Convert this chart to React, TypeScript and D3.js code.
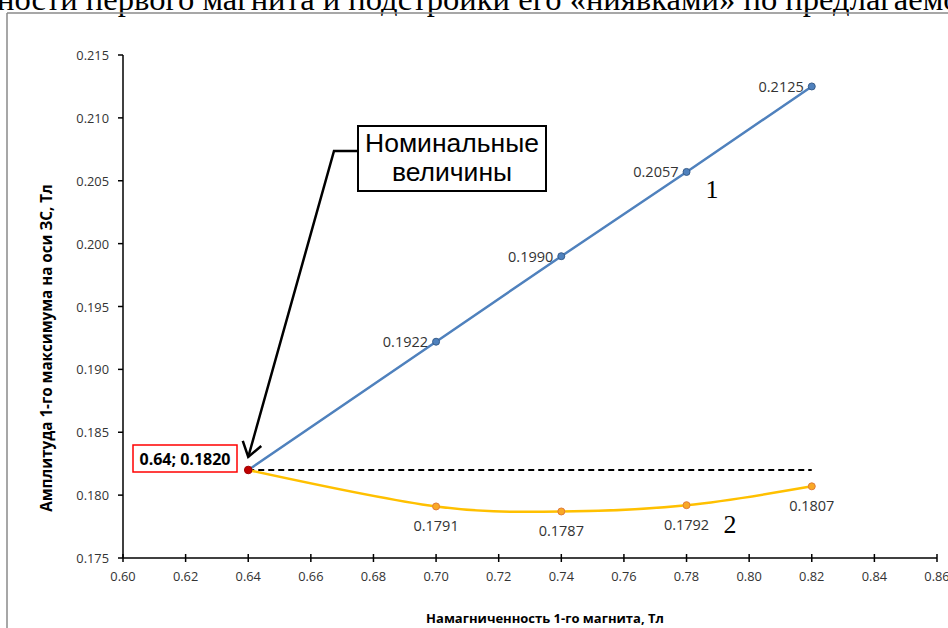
import React from "react";
import * as d3 from "d3";

const xTicks = [0.6, 0.62, 0.64, 0.66, 0.68, 0.7, 0.72, 0.74, 0.76, 0.78, 0.8, 0.82, 0.84, 0.86];
const yTicks = [0.175, 0.18, 0.185, 0.19, 0.195, 0.2, 0.205, 0.21, 0.215];

const magnetization = [0.64, 0.7, 0.74, 0.78, 0.82];
const series1 = [0.182, 0.1922, 0.199, 0.2057, 0.2125];
const series2 = [0.182, 0.1791, 0.1787, 0.1792, 0.1807];
const nominalX = 0.64;
const nominalY = 0.182;

const W = 948;
const H = 628;

export default function App() {
  const x = d3.scaleLinear().domain([0.6, 0.86]).range([123, 937]);
  const y = d3.scaleLinear().domain([0.175, 0.215]).range([558, 55]);

  const pts1 = magnetization.map((m, i) => [x(m), y(series1[i])] as [number, number]);
  const pts2 = magnetization.map((m, i) => [x(m), y(series2[i])] as [number, number]);

  const line = d3.line().curve(d3.curveCardinal.tension(0));
  const straight = d3.line();

  const tickFont = "'Open Sans', sans-serif";

  // arrow
  const tipX = x(nominalX);
  const tipY = y(nominalY) - 13;
  const knee: [number, number] = [334, 151];
  const dx = knee[0] - tipX;
  const dy = knee[1] - tipY;
  const len = Math.hypot(dx, dy);
  const ux = dx / len;
  const uy = dy / len;
  const arm = (ang: number) => {
    const c = Math.cos(ang), s = Math.sin(ang);
    return [tipX + 17 * (ux * c - uy * s), tipY + 17 * (ux * s + uy * c)];
  };
  const a1 = arm(0.6);
  const a2 = arm(-0.6);

  return (
    <svg
      width={W}
      height={H}
      style={{ position: "absolute", left: 0, top: 0, background: "#fff" }}
    >
      <rect x={0} y={0} width={W} height={H} fill="#fff" />
      {/* page text cut at top */}
      <text
        x={-3}
        y={10}
        fontFamily="'Liberation Serif', serif"
        fontSize={32.6}
        fill="#000"
      >
        ности первого магнита и подстройки его «ниявками» по предлагаемо
      </text>
      {/* frame */}
      <line x1={7} y1={13} x2={W} y2={13} stroke="#8a8a8a" strokeWidth={1.5} />
      <line x1={7} y1={13} x2={7} y2={H} stroke="#8a8a8a" strokeWidth={1.5} />

      {/* axes */}
      <line x1={x(0.6)} y1={y(0.175)} x2={x(0.86)} y2={y(0.175)} stroke="#000" strokeWidth={1.5} />
      <line x1={x(0.6)} y1={y(0.175)} x2={x(0.6)} y2={y(0.215)} stroke="#000" strokeWidth={1.5} />
      {yTicks.map((t) => (
        <g key={"y" + t}>
          <line x1={x(0.6) - 5} x2={x(0.6)} y1={y(t)} y2={y(t)} stroke="#000" strokeWidth={1.5} />
          <text
            x={x(0.6) - 14}
            y={y(t)}
            textAnchor="end"
            dominantBaseline="central"
            fontFamily={tickFont}
            fontSize={12.8}
            fill="#333"
          >
            {d3.format(".3f")(t)}
          </text>
        </g>
      ))}
      {xTicks.map((t) => (
        <g key={"x" + t}>
          <line x1={x(t)} x2={x(t)} y1={y(0.175) - 4} y2={y(0.175) + 4} stroke="#000" strokeWidth={1.5} />
          <text
            x={x(t)}
            y={y(0.175) + 18}
            textAnchor="middle"
            dominantBaseline="central"
            fontFamily={tickFont}
            fontSize={12.8}
            fill="#333"
          >
            {d3.format(".2f")(t)}
          </text>
        </g>
      ))}

      {/* axis titles */}
      <text
        transform={`translate(52, 348) rotate(-90)`}
        textAnchor="middle"
        fontFamily={tickFont}
        fontWeight="bold"
        fontSize={15.2}
        fill="#000"
      >
        Амплитуда 1-го максимума на оси ЗС, Тл
      </text>
      <text
        x={545}
        y={623}
        textAnchor="middle"
        fontFamily={tickFont}
        fontWeight="bold"
        fontSize={13}
        fill="#000"
      >
        Намагниченность 1-го магнита, Тл
      </text>

      {/* dashed nominal line */}
      <line
        x1={x(nominalX)}
        x2={x(0.82)}
        y1={y(nominalY)}
        y2={y(nominalY)}
        stroke="#000"
        strokeWidth={2}
        strokeDasharray="6 4"
      />

      {/* series 2 */}
      <path d={line(pts2) || ""} fill="none" stroke="#FFC000" strokeWidth={2.5} />
      {/* series 1 */}
      <path d={straight(pts1) || ""} fill="none" stroke="#4F81BD" strokeWidth={2.5} />

      {pts2.slice(1).map((p, i) => (
        <circle key={"m2" + i} cx={p[0]} cy={p[1]} r={3.5} fill="#F9A825" stroke="#E07B39" strokeWidth={1} />
      ))}
      {pts1.slice(1).map((p, i) => (
        <circle key={"m1" + i} cx={p[0]} cy={p[1]} r={3.5} fill="#4F81BD" stroke="#385D8A" strokeWidth={1} />
      ))}
      <circle cx={x(nominalX)} cy={y(nominalY)} r={3.8} fill="#C00000" stroke="#A00000" strokeWidth={1} />

      {/* data labels */}
      {pts1.slice(1).map((p, i) => (
        <text
          key={"l1" + i}
          x={p[0] - 8}
          y={p[1]}
          textAnchor="end"
          dominantBaseline="central"
          fontFamily={tickFont}
          fontSize={14.5}
          fill="#333"
        >
          {d3.format(".4f")(series1[i + 1])}
        </text>
      ))}
      {pts2.slice(1).map((p, i) => (
        <text
          key={"l2" + i}
          x={p[0]}
          y={p[1] + 19}
          textAnchor="middle"
          dominantBaseline="central"
          fontFamily={tickFont}
          fontSize={14.5}
          fill="#333"
        >
          {d3.format(".4f")(series2[i + 1])}
        </text>
      ))}

      {/* curve numbers */}
      <text x={712} y={198} textAnchor="middle" fontFamily="'Liberation Serif', serif" fontSize={26} fill="#000">
        1
      </text>
      <text x={730} y={533} textAnchor="middle" fontFamily="'Liberation Serif', serif" fontSize={26} fill="#000">
        2
      </text>

      {/* nominal value box */}
      <rect x={133} y={445} width={104} height={27} fill="#fff" stroke="#FF0000" strokeWidth={1.5} />
      <text
        x={185}
        y={459}
        textAnchor="middle"
        dominantBaseline="central"
        fontFamily={tickFont}
        fontWeight="bold"
        fontSize={16}
        fill="#000"
      >
        0.64; 0.1820
      </text>

      {/* annotation */}
      <polyline
        points={`358,151 ${knee[0]},${knee[1]} ${tipX},${tipY}`}
        fill="none"
        stroke="#000"
        strokeWidth={2.5}
      />
      <polyline
        points={`${a1[0]},${a1[1]} ${tipX},${tipY} ${a2[0]},${a2[1]}`}
        fill="none"
        stroke="#000"
        strokeWidth={2.5}
      />
      <rect x={358} y={126} width={188} height={65} fill="#fff" stroke="#000" strokeWidth={2} />
      <text x={452} y={152} textAnchor="middle" fontFamily="'Liberation Sans', Arial, sans-serif" fontSize={26.5} fill="#000">
        Номинальные
      </text>
      <text x={452} y={181} textAnchor="middle" fontFamily="'Liberation Sans', Arial, sans-serif" fontSize={26.5} fill="#000">
        величины
      </text>
    </svg>
  );
}
